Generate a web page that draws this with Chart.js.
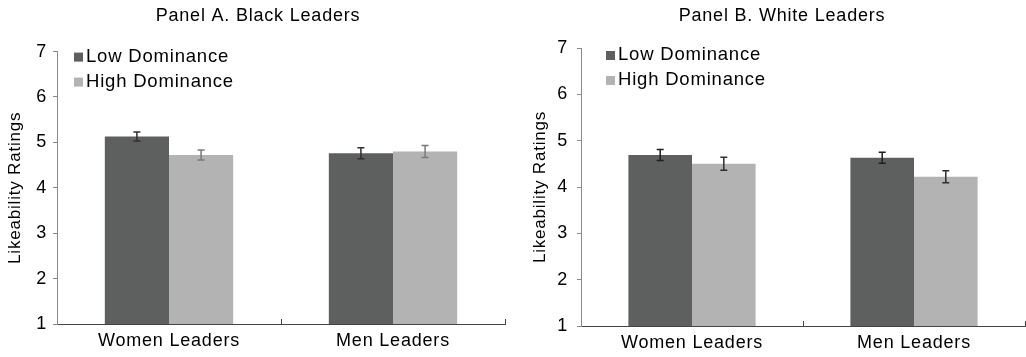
<!DOCTYPE html>
<html>
<head>
<meta charset="utf-8">
<script src="https://cdn.jsdelivr.net/npm/chart.js@4"></script>
<style>
  body { margin: 0; background: #fff; }
  .fila { display: flex; width: 1026px; height: 357px; }
  .panel { position: relative; width: 513px; height: 357px; }
</style>
</head>
<body>
<div class="fila">
  <div class="panel"><canvas id="panel-a"></canvas></div>
  <div class="panel"><canvas id="panel-b"></canvas></div>
</div>
<script>
const categorias = ['Women Leaders', 'Men Leaders'];
const series = ['Low Dominance', 'High Dominance'];

// Panel A: líderes negros
const bajaA = [5.13, 4.76];
const altaA = [4.72, 4.80];
const errorBajaA = [0.10, 0.12];
const errorAltaA = [0.11, 0.13];

// Panel B: líderes blancos
const bajaB = [4.69, 4.63];
const altaB = [4.50, 4.22];
const errorBajaB = [0.12, 0.12];
const errorAltaB = [0.14, 0.13];

// Escala de calificación
const minY = 1;
const maxY = 7;
const pasoY = 1;

const colorBaja = '#5e605f';
const colorAlta = '#b3b3b3';
const colorTexto = '#000';
const fuente = '"Liberation Sans", Arial, Helvetica, sans-serif';

// Un poco de espacio entre letras, el texto original es más ancho
const espaciado = {
    id: 'espaciado',
    beforeUpdate(chart) { chart.ctx.letterSpacing = '0.8px'; },
    beforeDraw(chart) { chart.ctx.letterSpacing = '0.8px'; }
};

// Barras de error con remates arriba y abajo
const barrasError = {
    id: 'barrasError',
    afterDatasetsDraw(chart, args, opts) {
        const ctx = chart.ctx;
        const y = chart.scales.y;
        chart.data.datasets.forEach((ds, i) => {
            chart.getDatasetMeta(i).data.forEach((barra, j) => {
                const v = ds.data[j];
                const e = ds.errores[j];
                const arriba = y.getPixelForValue(v + e);
                const abajo = y.getPixelForValue(v - e);
                ctx.save();
                ctx.strokeStyle = opts.colores[i];
                ctx.lineWidth = 1.5;
                ctx.beginPath();
                ctx.moveTo(barra.x, arriba);
                ctx.lineTo(barra.x, abajo);
                ctx.moveTo(barra.x - 3.5, arriba);
                ctx.lineTo(barra.x + 3.5, arriba);
                ctx.moveTo(barra.x - 3.5, abajo);
                ctx.lineTo(barra.x + 3.5, abajo);
                ctx.stroke();
                ctx.restore();
            });
        });
    }
};

// Leyenda dentro del área del gráfico, arriba a la izquierda
const leyenda = {
    id: 'leyenda',
    afterDraw(chart, args, opts) {
        const ctx = chart.ctx;
        const area = chart.chartArea;
        ctx.save();
        ctx.font = '18.5px ' + fuente;
        ctx.textBaseline = 'alphabetic';
        chart.data.datasets.forEach((ds, i) => {
            const base = area.top + opts.filas[i];
            const x = area.left + opts.x;
            ctx.fillStyle = ds.backgroundColor;
            ctx.fillRect(x, base - 9, 9, 9);
            ctx.fillStyle = colorTexto;
            ctx.fillText(ds.label, x + 12, base);
        });
        ctx.restore();
    }
};

function crearPanel(id, titulo, baja, alta, errBaja, errAlta, a) {
    const ctx = document.getElementById(id).getContext('2d');
    return new Chart(ctx, {
        type: 'bar',
        data: {
            labels: categorias,
            datasets: [{
                label: series[0],
                data: baja,
                errores: errBaja,
                backgroundColor: colorBaja,
                borderWidth: 0,
                categoryPercentage: 0.573,
                barPercentage: 1
            }, {
                label: series[1],
                data: alta,
                errores: errAlta,
                backgroundColor: colorAlta,
                borderWidth: 0,
                categoryPercentage: 0.573,
                barPercentage: 1
            }]
        },
        options: {
            responsive: true,
            maintainAspectRatio: false,
            animation: false,
            layout: { padding: { left: a.izq, right: a.der, top: 0, bottom: 0 } },
            plugins: {
                legend: { display: false },
                tooltip: { enabled: false },
                title: {
                    display: true,
                    text: titulo,
                    color: colorTexto,
                    font: { family: fuente, size: 18, weight: 'normal' },
                    padding: { top: 5, bottom: a.tituloAbajo }
                },
                barrasError: { colores: a.coloresError },
                leyenda: { x: a.leyendaX, filas: a.filas }
            },
            scales: {
                x: {
                    afterFit(scale) { scale.height = a.alturaX; },
                    grid: { offset: true, drawOnChartArea: false, drawTicks: true, tickLength: -5, color: '#444' },
                    border: { color: '#444', width: 1 },
                    ticks: { color: colorTexto, padding: 11, font: { family: fuente, size: 18 } }
                },
                y: {
                    min: minY,
                    max: maxY,
                    afterFit(scale) { scale.width = a.anchoY; },
                    grid: { drawOnChartArea: false, drawTicks: true, tickLength: 4, color: '#8a8a8a' },
                    border: { color: '#8a8a8a', width: 1 },
                    ticks: { stepSize: pasoY, color: colorTexto, padding: a.padTicksY, font: { family: fuente, size: 18 } },
                    title: {
                        display: true,
                        text: 'Likeability Ratings',
                        color: colorTexto,
                        font: { family: fuente, size: 17 },
                        padding: { top: a.padTituloY, bottom: 0 }
                    }
                }
            }
        },
        plugins: [espaciado, barrasError, leyenda]
    });
}

window.onload = function () {
    crearPanel('panel-a', 'Panel A. Black Leaders', bajaA, altaA, errorBajaA, errorAltaA, {
        izq: 11, der: 8, anchoY: 46, tituloAbajo: 25, alturaX: 33,
        padTituloY: -6, padTicksY: 6, leyendaX: 17, filas: [10, 35],
        coloresError: ['#2f2f2f', '#7a7a7a']
    });
    crearPanel('panel-b', 'Panel B. White Leaders', bajaB, altaB, errorBajaB, errorAltaB, {
        izq: 26, der: 1, anchoY: 42, tituloAbajo: 21.4, alturaX: 31,
        padTituloY: -9, padTicksY: 9, leyendaX: 25, filas: [12, 37],
        coloresError: ['#1f1f1f', '#2f2f2f']
    });
};
</script>
</body>
</html>
